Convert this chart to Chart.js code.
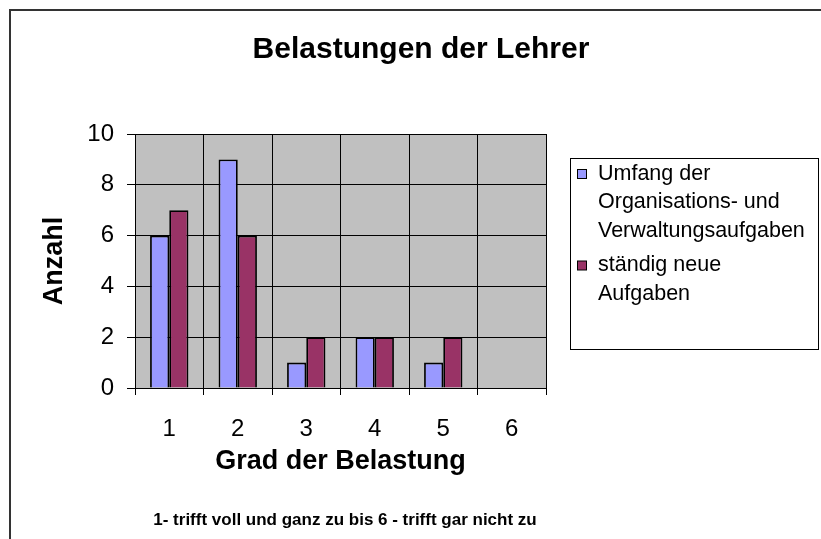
<!DOCTYPE html>
<html>
<head>
<meta charset="utf-8">
<script src="https://cdn.jsdelivr.net/npm/chart.js@4/dist/chart.umd.min.js"></script>
<style>
  html, body { margin: 0; padding: 0; background: #ffffff; }
  #wrap { width: 821px; height: 539px; position: relative; }
</style>
</head>
<body>
<div id="wrap"><canvas id="c" width="821" height="539"></canvas></div>
<script>
// ---- data ----
const categories = ["1", "2", "3", "4", "5", "6"];
const seriesUmfang = [6, 9, 1, 2, 1, 0];
const seriesNeue = [7, 6, 2, 2, 2, 0];
const seriesNames = ["Umfang der Organisations- und Verwaltungsaufgaben", "ständig neue Aufgaben"];
const legendLines = [["Umfang der", "Organisations- und", "Verwaltungsaufgaben"], ["ständig neue", "Aufgaben"]];
const chartTitle = "Belastungen der Lehrer";
const xTitle = "Grad der Belastung";
const yTitle = "Anzahl";
const footnote = "1- trifft voll und ganz zu bis 6 - trifft gar nicht zu";
const yTicks = [0, 2, 4, 6, 8, 10];

const FONT = "'Liberation Sans', Arial, Helvetica, sans-serif";

const decor = {
  id: 'decor',
  beforeDraw(chart) {
    const ctx = chart.ctx;
    const a = chart.chartArea;
    ctx.save();
    // outer frame (left & top only visible)
    ctx.strokeStyle = '#333333';
    ctx.lineWidth = 2;
    ctx.beginPath();
    ctx.moveTo(10, 545);
    ctx.lineTo(10, 10);
    ctx.lineTo(830, 10);
    ctx.stroke();
    // plot background
    ctx.fillStyle = '#C0C0C0';
    ctx.fillRect(a.left, a.top, a.right - a.left, a.bottom - a.top);
    ctx.restore();
  },
  afterDraw(chart) {
    const ctx = chart.ctx;
    ctx.save();
    ctx.fillStyle = '#000';
    ctx.textAlign = 'center';
    ctx.textBaseline = 'middle';
    ctx.font = 'bold 30px ' + FONT;
    ctx.fillText(chartTitle, 421, 50);
    ctx.font = 'bold 17px ' + FONT;
    ctx.fillText(footnote, 345, 520);

    // legend
    const lx = 570.5, ly = 158.5, lw = 248, lh = 191;
    ctx.fillStyle = '#ffffff';
    ctx.fillRect(lx, ly, lw, lh);
    ctx.strokeStyle = '#000';
    ctx.lineWidth = 1;
    ctx.strokeRect(lx, ly, lw, lh);
    ctx.font = '21.5px ' + FONT;
    ctx.textAlign = 'left';
    const lineH = 28.5;
    let y = 174;
    chart.data.datasets.forEach((ds, i) => {
      ctx.fillStyle = ds.backgroundColor;
      ctx.fillRect(577.5, y - 4.5, 9, 9);
      ctx.strokeStyle = '#000';
      ctx.strokeRect(577.5, y - 4.5, 9, 9);
      ctx.fillStyle = '#000';
      legendLines[i].forEach((t, j) => {
        ctx.fillText(t, 598, y + j * lineH);
      });
      y += legendLines[i].length * lineH + 6;
    });
    ctx.restore();
  }
};

new Chart(document.getElementById('c'), {
  type: 'bar',
  data: {
    labels: categories,
    datasets: [
      { label: seriesNames[0], data: seriesUmfang, backgroundColor: '#9999FF', borderColor: '#000000', borderWidth: 1.8,
        categoryPercentage: 0.56, barPercentage: 1.0 },
      { label: seriesNames[1], data: seriesNeue, backgroundColor: '#993366', borderColor: '#000000', borderWidth: 1.8,
        categoryPercentage: 0.56, barPercentage: 1.0 }
    ]
  },
  options: {
    responsive: false,
    animation: false,
    devicePixelRatio: 1,
    layout: { padding: { left: 0, top: 134, right: 275, bottom: 61 } },
    plugins: {
      legend: { display: false },
      title: { display: false },
      tooltip: { enabled: false }
    },
    scales: {
      x: {
        grid: { offset: true, color: '#000000', lineWidth: 1, tickLength: 7, drawTicks: true },
        border: { color: '#000000', width: 1 },
        ticks: { color: '#000', font: { family: FONT, size: 24 }, padding: 20 },
        title: { display: true, text: xTitle, color: '#000', font: { family: FONT, size: 27, weight: 'bold' }, padding: { top: 0, bottom: 0 } },
        afterFit(scale) { scale.height = 90; }
      },
      y: {
        min: 0, max: 10,
        afterBuildTicks(scale) { scale.ticks = yTicks.map(v => ({ value: v })); },
        grid: { color: '#000000', lineWidth: 1, tickLength: 8 },
        border: { color: '#000000', width: 1 },
        ticks: { color: '#000', font: { family: FONT, size: 24 }, padding: 13 },
        title: { display: true, text: yTitle, color: '#000', font: { family: FONT, size: 27, weight: 'bold' }, padding: { top: 38, bottom: 0 } },
        afterFit(scale) { scale.width = 135; }
      }
    }
  },
  plugins: [decor]
});
</script>
</body>
</html>
